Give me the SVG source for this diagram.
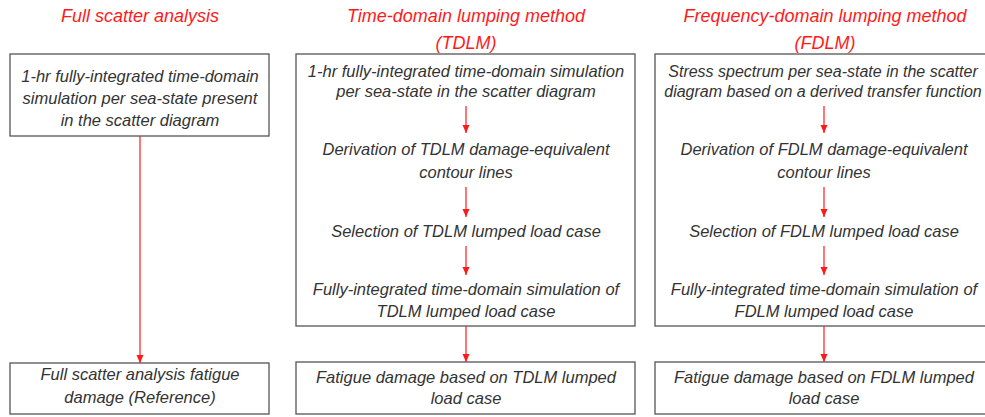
<svg xmlns="http://www.w3.org/2000/svg" width="985" height="417" viewBox="0 0 985 417">
<style>
.t{font-family:"Liberation Sans","DejaVu Sans",sans-serif;font-style:italic;font-size:18px;fill:#ff1a1a;text-anchor:middle}
.b{font-family:"Liberation Sans","DejaVu Sans",sans-serif;font-style:italic;font-size:16.5px;fill:#333;text-anchor:middle}
.s{font-size:16px}
.box{fill:#fff;stroke:#555;stroke-width:1.3}
.c{stroke:#ff1a1a;stroke-width:1.2;fill:none;marker-end:url(#ah)}
</style>
<defs>
<marker id="ah" viewBox="0 0 8 8" refX="8" refY="4" markerWidth="8" markerHeight="8" markerUnits="userSpaceOnUse" orient="auto">
<path d="M0,0.5 L8,4 L0,7.5 Z" fill="#ff1a1a"/>
</marker>
</defs>
<rect width="985" height="417" fill="#fff"/>
<g id="titles">
<text class="t" x="140" y="22">Full scatter analysis</text>
<text class="t" x="466" y="22">Time-domain lumping method</text>
<text class="t" x="466" y="49">(TDLM)</text>
<text class="t" x="825" y="22">Frequency-domain lumping method</text>
<text class="t" x="825" y="49">(FDLM)</text>
</g>
<g id="full-sim">
<rect class="box" x="10" y="54" width="259" height="82"/>
<text class="b" x="140" y="82">1-hr fully-integrated time-domain</text>
<text class="b" x="140" y="104">simulation per sea-state present</text>
<text class="b" x="140" y="126">in the scatter diagram</text>
</g>
<g id="full-result">
<rect class="box" x="10" y="363" width="259" height="51"/>
<text class="b" x="140" y="380">Full scatter analysis fatigue</text>
<text class="b" x="140" y="403">damage (Reference)</text>
</g>
<g id="tdlm-box">
<rect class="box" x="296" y="54" width="339" height="272"/>
<text class="b" x="466" y="77">1-hr fully-integrated time-domain simulation</text>
<text class="b" x="466" y="97">per sea-state in the scatter diagram</text>
<text class="b" x="466" y="155">Derivation of TDLM damage-equivalent</text>
<text class="b" x="466" y="178">contour lines</text>
<text class="b" x="466" y="237">Selection of TDLM lumped load case</text>
<text class="b" x="466" y="295">Fully-integrated time-domain simulation of</text>
<text class="b" x="466" y="317">TDLM lumped load case</text>
</g>
<g id="tdlm-result">
<rect class="box" x="296" y="362" width="339" height="52"/>
<text class="b" x="466" y="383">Fatigue damage based on TDLM lumped</text>
<text class="b" x="466" y="404">load case</text>
</g>
<g id="fdlm-box">
<rect class="box" x="655" y="54" width="340" height="272"/>
<text class="b s" x="823" y="77">Stress spectrum per sea-state in the scatter</text>
<text class="b s" x="823" y="97">diagram based on a derived transfer function</text>
<text class="b" x="824" y="155">Derivation of FDLM damage-equivalent</text>
<text class="b" x="824" y="178">contour lines</text>
<text class="b" x="824" y="237">Selection of FDLM lumped load case</text>
<text class="b" x="824" y="295">Fully-integrated time-domain simulation of</text>
<text class="b" x="824" y="317">FDLM lumped load case</text>
</g>
<g id="fdlm-result">
<rect class="box" x="655" y="362" width="340" height="52"/>
<text class="b" x="824" y="383">Fatigue damage based on FDLM lumped</text>
<text class="b" x="824" y="404">load case</text>
</g>
<g id="connectors">
<path class="c" d="M140,136 V363"/>
<path class="c" d="M466,106 V133"/>
<path class="c" d="M466,187 V217"/>
<path class="c" d="M466,246 V275"/>
<path class="c" d="M466,326 V362"/>
<path class="c" d="M824,106 V133"/>
<path class="c" d="M824,187 V217"/>
<path class="c" d="M824,246 V275"/>
<path class="c" d="M824,326 V362"/>
</g>
</svg>
